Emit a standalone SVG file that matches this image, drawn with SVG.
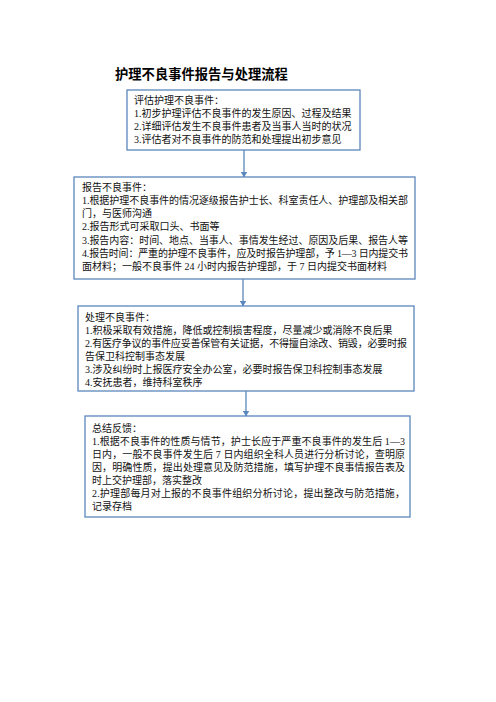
<svg xmlns="http://www.w3.org/2000/svg" width="496" height="702" viewBox="0 0 496 702">
<defs>
<style>
.box{fill:#fff;stroke:#5b87bd;stroke-width:1.3}
.t{font-family:"Liberation Serif","Noto Sans CJK SC",serif;font-size:10px;fill:#111}
.title{font-family:"Liberation Serif","Noto Sans CJK SC",sans-serif;font-size:13.3px;font-weight:bold;fill:#000}
.c{stroke:#5b87bd;stroke-width:1.3;fill:none}
</style>
<marker id="ah" markerWidth="6" markerHeight="7" refX="5.5" refY="3.5" orient="auto" markerUnits="userSpaceOnUse" viewBox="0 0 6 7">
<path d="M0,0 L6,3.5 L0,7 z" fill="#5b87bd"/>
</marker>
</defs>
<rect width="496" height="702" fill="#fff"/>
<text class="title" x="115" y="79">护理不良事件报告与处理流程</text>

<g id="connectors">
<line class="c" x1="244" y1="150" x2="244" y2="177" marker-end="url(#ah)"/>
<line class="c" x1="243" y1="279" x2="243" y2="306" marker-end="url(#ah)"/>
<line class="c" x1="246" y1="391" x2="246" y2="416" marker-end="url(#ah)"/>
</g>

<g id="n1">
<rect class="box" x="127" y="90" width="233" height="60"/>
<text class="t" x="134" y="103.5">评估护理不良事件：</text>
<text class="t" x="134" y="116.8">1.初步护理评估不良事件的发生原因、过程及结果</text>
<text class="t" x="134" y="130.1">2.详细评估发生不良事件患者及当事人当时的状况</text>
<text class="t" x="134" y="143.4">3.评估者对不良事件的防范和处理提出初步意见</text>
</g>

<g id="n2">
<rect class="box" x="74" y="177" width="341" height="102"/>
<text class="t" x="82" y="190.5">报告不良事件：</text>
<text class="t" x="82" y="203.8" textLength="326" lengthAdjust="spacing">1.根据护理不良事件的情况逐级报告护士长、科室责任人、护理部及相关部</text>
<text class="t" x="82" y="217.1">门，与医师沟通</text>
<text class="t" x="82" y="230.4">2.报告形式可采取口头、书面等</text>
<text class="t" x="82" y="243.7" textLength="326" lengthAdjust="spacing">3.报告内容：时间、地点、当事人、事情发生经过、原因及后果、报告人等</text>
<text class="t" x="82" y="257" textLength="326" lengthAdjust="spacing">4.报告时间：严重的护理不良事件，应及时报告护理部，予 1—3 日内提交书</text>
<text class="t" x="82" y="270.3">面材料；一般不良事件 24 小时内报告护理部，于 7 日内提交书面材料</text>
</g>

<g id="n3">
<rect class="box" x="78" y="306" width="336" height="85"/>
<text class="t" x="85" y="320.5">处理不良事件：</text>
<text class="t" x="85" y="333.6">1.积极采取有效措施，降低或控制损害程度，尽量减少或消除不良后果</text>
<text class="t" x="85" y="346.7" textLength="322" lengthAdjust="spacing">2.有医疗争议的事件应妥善保管有关证据，不得擅自涂改、销毁，必要时报</text>
<text class="t" x="85" y="359.8">告保卫科控制事态发展</text>
<text class="t" x="85" y="372.9">3.涉及纠纷时上报医疗安全办公室，必要时报告保卫科控制事态发展</text>
<text class="t" x="85" y="386">4.安抚患者，维持科室秩序</text>
</g>

<g id="n4">
<rect class="box" x="85" y="416" width="325" height="101"/>
<text class="t" x="92" y="431.5">总结反馈：</text>
<text class="t" x="92" y="444.6" textLength="313" lengthAdjust="spacing">1.根据不良事件的性质与情节，护士长应于严重不良事件的发生后 1—3</text>
<text class="t" x="92" y="457.7" textLength="313" lengthAdjust="spacing">日内，一般不良事件发生后 7 日内组织全科人员进行分析讨论，查明原</text>
<text class="t" x="92" y="470.8" textLength="313" lengthAdjust="spacing">因，明确性质，提出处理意见及防范措施，填写护理不良事情报告表及</text>
<text class="t" x="92" y="483.9">时上交护理部，落实整改</text>
<text class="t" x="92" y="497" textLength="313" lengthAdjust="spacing">2.护理部每月对上报的不良事件组织分析讨论，提出整改与防范措施，</text>
<text class="t" x="92" y="510.1">记录存档</text>
</g>
</svg>
